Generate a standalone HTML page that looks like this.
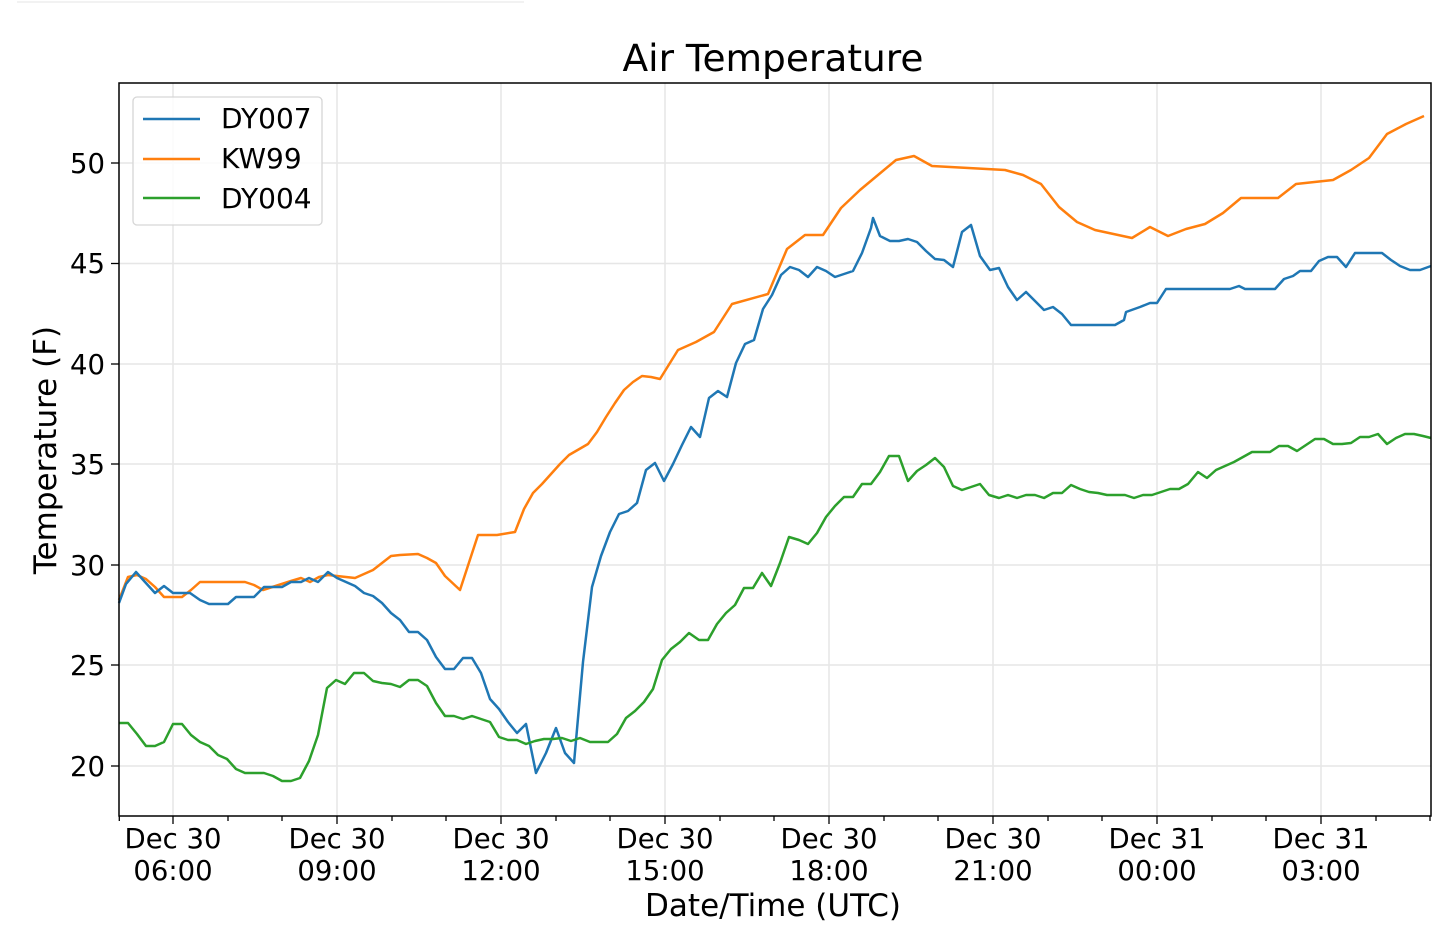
<!DOCTYPE html>
<html><head><meta charset="utf-8"><style>
html,body{margin:0;padding:0;background:#fff;}
svg{display:block;font-family:"DejaVu Sans","Liberation Sans",sans-serif;}
</style></head><body>
<svg width="1440" height="946" viewBox="0 0 1440 946" xmlns="http://www.w3.org/2000/svg">
<line x1="17" y1="2" x2="524" y2="2" stroke="#eee" stroke-width="1.5"/>
<g stroke="#e6e6e6" stroke-width="1.5">
<line x1="173" y1="83" x2="173" y2="816"/><line x1="337" y1="83" x2="337" y2="816"/>
<line x1="501" y1="83" x2="501" y2="816"/><line x1="665" y1="83" x2="665" y2="816"/>
<line x1="829" y1="83" x2="829" y2="816"/><line x1="993" y1="83" x2="993" y2="816"/>
<line x1="1157" y1="83" x2="1157" y2="816"/><line x1="1321" y1="83" x2="1321" y2="816"/>
<line x1="119" y1="163" x2="1431" y2="163"/><line x1="119" y1="263.5" x2="1431" y2="263.5"/>
<line x1="119" y1="364" x2="1431" y2="364"/><line x1="119" y1="464" x2="1431" y2="464"/>
<line x1="119" y1="565" x2="1431" y2="565"/><line x1="119" y1="665" x2="1431" y2="665"/>
<line x1="119" y1="766" x2="1431" y2="766"/>
</g>
<g fill="none" stroke-width="2.5" stroke-linejoin="round">
<polyline stroke="#ff7f0e" points="119,600 128,577 137,575 146,579 155,587 164,597 173,597 182,597 191,590 200,582 245,582 254,585 263,590 291,581 301,578 310,582 319,577 328,575 337,576 346,577 355,578 364,574 373,570 382,563 391,556 400,555 418,554 427,558 436,563 445,576 460,590 478,535 497,535 515,532 524,509 533,493 542,484 551,474 560,464 569,455 588,444 597,432 606,417 615,403 624,390 633,382 642,376 651,377 660,379 678,350 696,342 714,332 732,304 768,294 787,249 805,235 823,235 841,208 860,190 878,175 896,160 914,156 932,166 1005,170 1023,175 1041,184 1059,207 1077,222 1095,230 1132,238 1150,227 1168,236 1186,229 1205,224 1223,213 1241,198 1278,198 1296,184 1333,180 1351,170 1369,158 1387,134 1406,124 1424,116"/>
<polyline stroke="#1f77b4" points="119,603 126,584 136,572 145,582 155,593 164,586 173,593 190,593 200,600 209,604 228,604 236,597 254,597 264,587 282,587 291,582 301,582 309,578 318,582 328,572 337,578 355,586 364,593 373,596 382,603 391,613 400,620 409,632 418,632 427,640 436,657 445,669 454,669 463,658 472,658 481,673 490,699 499,709 508,722 517,733 526,724 536,773 546,753 556,728 565,753 574,763 583,662 592,587 601,556 610,532 619,514 628,511 637,503 646,470 655,463 664,481 673,464 682,445 691,427 700,437 709,398 718,391 727,397 736,363 745,344 754,340 763,309 772,295 781,275 790,267 799,270 808,277 817,267 826,271 835,277 844,274 853,271 862,253 871,228 873,218 880,236 890,241 899,241 908,239 917,242 926,251 935,259 944,260 953,267 962,232 971,225 980,256 990,270 999,268 1008,287 1017,300 1026,292 1035,301 1044,310 1053,307 1062,314 1071,325 1115,325 1124,320 1126,312 1140,307 1150,303 1157,303 1166,289 1230,289 1239,286 1245,289 1275,289 1284,279 1293,276 1300,271 1311,271 1319,261 1328,257 1337,257 1346,267 1355,253 1382,253 1391,260 1400,266 1410,270 1420,270 1431,266"/>
<polyline stroke="#2ca02c" points="119,723 128,723 137,734 146,746 155,746 164,742 173,724 182,724 191,735 200,742 209,746 218,755 227,759 236,769 245,773 264,773 273,776 282,781 291,781 300,778 309,761 318,735 327,688 336,680 345,684 354,673 364,673 373,681 382,683 391,684 400,687 409,680 418,680 427,686 436,703 445,716 454,716 463,719 472,716 481,719 490,722 499,737 508,740 517,740 526,744 535,741 544,739 553,739 562,738 571,741 580,738 590,742 608,742 617,734 626,718 635,711 644,702 653,689 662,660 671,649 680,642 689,633 699,640 708,640 717,624 726,613 735,605 744,588 753,588 762,573 771,586 780,563 789,537 799,540 808,544 817,533 826,517 835,506 844,497 853,497 862,484 871,484 880,472 889,456 899,456 908,481 917,471 926,465 935,458 944,467 953,486 962,490 971,487 980,484 989,495 999,498 1008,495 1017,498 1026,495 1035,495 1044,498 1053,493 1062,493 1071,485 1080,489 1089,492 1098,493 1107,495 1116,495 1125,495 1134,498 1143,495 1152,495 1161,492 1170,489 1179,489 1188,484 1198,472 1207,478 1216,470 1225,466 1234,462 1243,457 1252,452 1261,452 1270,452 1279,446 1288,446 1297,451 1306,445 1315,439 1324,439 1333,444 1342,444 1351,443 1360,437 1369,437 1378,434 1387,444 1396,438 1405,434 1414,434 1423,436 1431,438"/>
</g>
<rect x="119" y="83" width="1312" height="733" fill="none" stroke="#000" stroke-width="1.5"/>
<g stroke="#000" stroke-width="1.3">
<line x1="173" y1="816" x2="173" y2="824"/><line x1="337" y1="816" x2="337" y2="824"/>
<line x1="501" y1="816" x2="501" y2="824"/><line x1="665" y1="816" x2="665" y2="824"/>
<line x1="829" y1="816" x2="829" y2="824"/><line x1="993" y1="816" x2="993" y2="824"/>
<line x1="1157" y1="816" x2="1157" y2="824"/><line x1="1321" y1="816" x2="1321" y2="824"/>
<line x1="119.3" y1="816" x2="119.3" y2="821"/><line x1="228" y1="816" x2="228" y2="821"/><line x1="282" y1="816" x2="282" y2="821"/>
<line x1="392" y1="816" x2="392" y2="821"/><line x1="446" y1="816" x2="446" y2="821"/>
<line x1="556" y1="816" x2="556" y2="821"/><line x1="610" y1="816" x2="610" y2="821"/>
<line x1="720" y1="816" x2="720" y2="821"/><line x1="774" y1="816" x2="774" y2="821"/>
<line x1="884" y1="816" x2="884" y2="821"/><line x1="938" y1="816" x2="938" y2="821"/>
<line x1="1048" y1="816" x2="1048" y2="821"/><line x1="1102" y1="816" x2="1102" y2="821"/>
<line x1="1212" y1="816" x2="1212" y2="821"/><line x1="1266" y1="816" x2="1266" y2="821"/>
<line x1="1376" y1="816" x2="1376" y2="821"/><line x1="1430" y1="816" x2="1430" y2="821"/>
<line x1="111" y1="163" x2="119" y2="163"/><line x1="111" y1="263.5" x2="119" y2="263.5"/>
<line x1="111" y1="364" x2="119" y2="364"/><line x1="111" y1="464" x2="119" y2="464"/>
<line x1="111" y1="565" x2="119" y2="565"/><line x1="111" y1="665" x2="119" y2="665"/>
<line x1="111" y1="766" x2="119" y2="766"/>
</g>
<g font-size="27.5" fill="#000" text-anchor="end">
<text x="105" y="173">50</text><text x="105" y="273">45</text><text x="105" y="374">40</text>
<text x="105" y="474">35</text><text x="105" y="575">30</text><text x="105" y="675">25</text>
<text x="105" y="776">20</text>
</g>
<g font-size="27.5" fill="#000" text-anchor="middle">
<text x="173" y="848">Dec 30</text><text x="173" y="880">06:00</text>
<text x="337" y="848">Dec 30</text><text x="337" y="880">09:00</text>
<text x="501" y="848">Dec 30</text><text x="501" y="880">12:00</text>
<text x="665" y="848">Dec 30</text><text x="665" y="880">15:00</text>
<text x="829" y="848">Dec 30</text><text x="829" y="880">18:00</text>
<text x="993" y="848">Dec 30</text><text x="993" y="880">21:00</text>
<text x="1157" y="848">Dec 31</text><text x="1157" y="880">00:00</text>
<text x="1321" y="848">Dec 31</text><text x="1321" y="880">03:00</text>
<text x="773" y="916" font-size="31">Date/Time (UTC)</text>
<text x="773" y="71" font-size="37.5">Air Temperature</text>
<text transform="translate(56,450) rotate(-90)" font-size="31">Temperature (F)</text>
</g>
<rect x="133" y="97" width="189" height="128" rx="4" fill="#fff" fill-opacity="0.85" stroke="#d6d6d6" stroke-width="1.3"/>
<line x1="143" y1="119" x2="200" y2="119" stroke="#1f77b4" stroke-width="2.5"/>
<line x1="143" y1="159" x2="200" y2="159" stroke="#ff7f0e" stroke-width="2.5"/>
<line x1="143" y1="198" x2="200" y2="198" stroke="#2ca02c" stroke-width="2.5"/>
<g font-size="28" fill="#000">
<text x="221" y="128">DY007</text><text x="221" y="168">KW99</text><text x="221" y="208">DY004</text>
</g>
</svg>
</body></html>
